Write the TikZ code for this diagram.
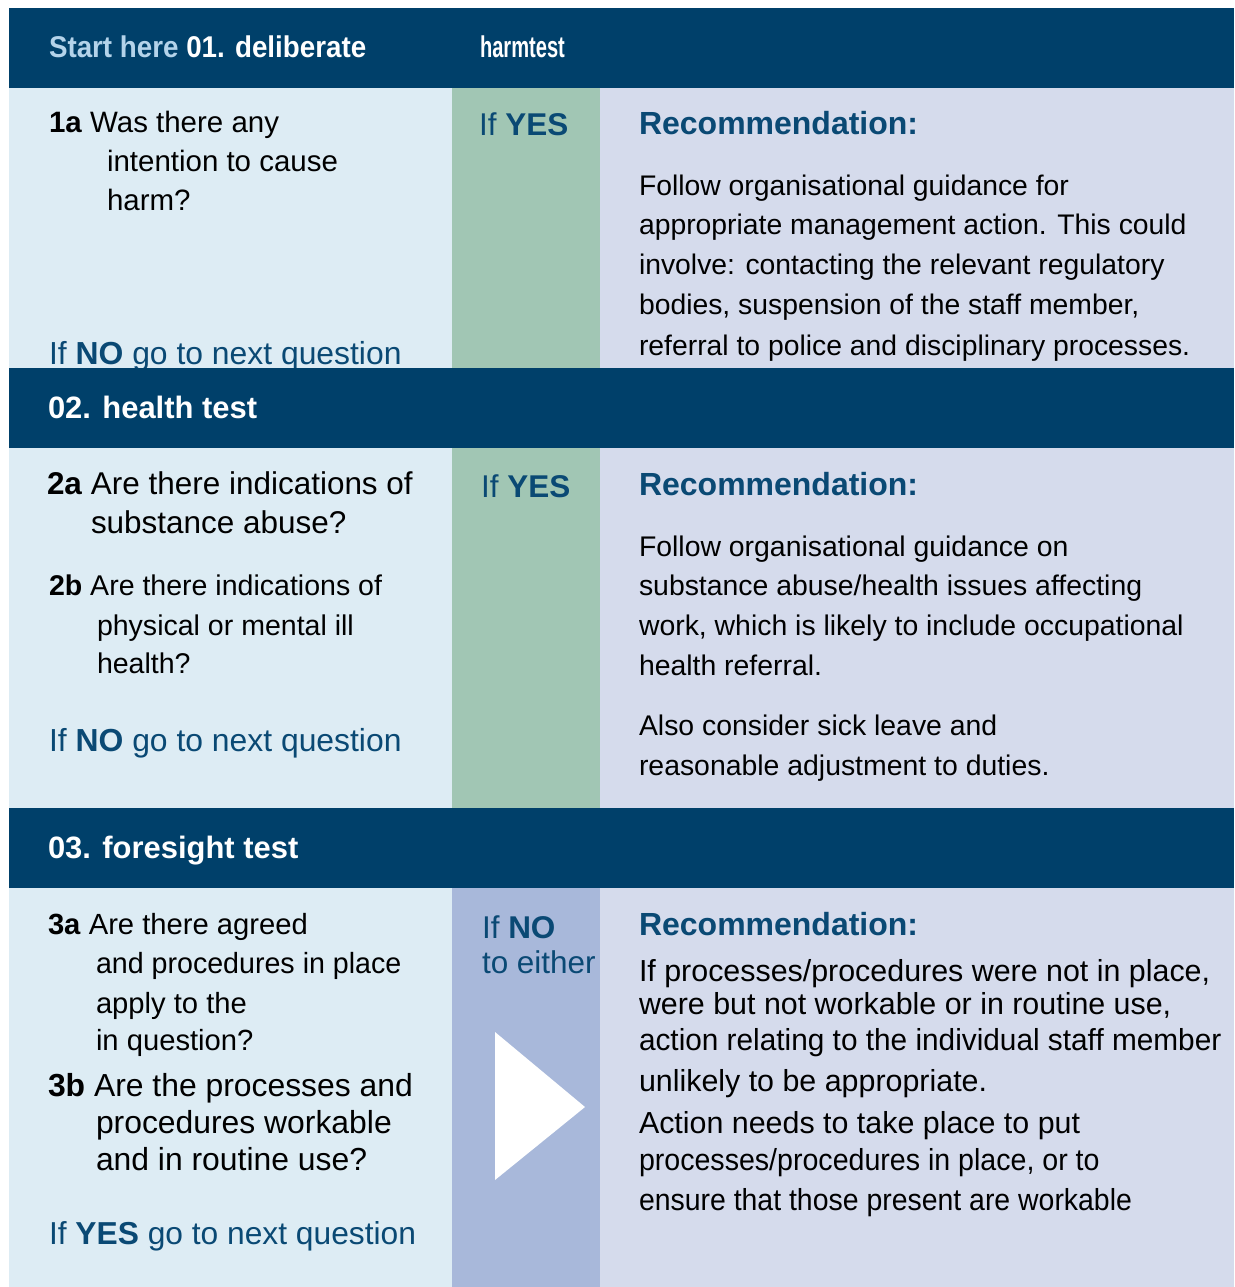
\documentclass[tikz,border=0pt]{standalone}
\usepackage{fontspec}
\setmainfont{Liberation Sans}
\usepackage{graphicx}
\definecolor{navy}{RGB}{0,64,106}
\definecolor{qblue}{RGB}{221,236,244}
\definecolor{ygreen}{RGB}{161,198,180}
\definecolor{reclav}{RGB}{213,219,236}
\definecolor{nblue}{RGB}{168,184,218}
\definecolor{tblue}{RGB}{10,73,116}
\definecolor{startblue}{RGB}{180,211,234}
\newcommand\sz[1]{\fontsize{#1}{#1}\selectfont}
\newcommand\cond[2]{\scalebox{#1}[1]{#2}}
\begin{document}
\begin{tikzpicture}[x=0.75pt,y=-0.75pt,
  txt/.style={anchor=base west,inner sep=0pt,outer sep=0pt,text=black},
  bluetxt/.style={txt,text=tblue},
  headtxt/.style={txt,text=white,font=\sz{23.2pt}\bfseries},
  rectxt/.style={txt,text=tblue,font=\sz{24pt}\bfseries}]
\useasboundingbox (0,0) rectangle (1234,1287);
\fill[white] (0,0) rectangle (1234,1287);
% ---------- row backgrounds ----------
\fill[qblue]  (9,88) rectangle (452,368);
\fill[ygreen] (452,88) rectangle (600,368);
\fill[reclav] (600,88) rectangle (1234,368);
\fill[qblue]  (9,448) rectangle (452,808);
\fill[ygreen] (452,448) rectangle (600,808);
\fill[reclav] (600,448) rectangle (1234,808);
\fill[qblue]  (9,888) rectangle (452,1287);
\fill[nblue]  (452,888) rectangle (600,1287);
\fill[reclav] (600,888) rectangle (1234,1287);
% ---------- row 1 ----------
\node[txt,font=\sz{22.1pt}] (q1a) at (49,133) {\textbf{1a} Was there any};
\node[txt,font=\sz{22.1pt}] (q1a2) at (107,172) {intention to cause};
\node[txt,font=\sz{22.1pt}] (q1a3) at (107,211) {harm?};
\node[bluetxt,font=\sz{23.9pt}] (no1) at (49,364) {If \textbf{NO} go to next question};
\node[bluetxt,font=\sz{23.6pt}] (yes1) at (479,136) {If \textbf{YES}};
\node[rectxt] (rec1) at (639,135) {Recommendation:};
\begin{scope}[every node/.style={txt,font=\sz{21.25pt}}]
\node (r1l1) at (639,196) {Follow organisational guidance for};
\node (r1l2) at (639,235) {appropriate management action. This could};
\node (r1l3) at (639,275) {involve: contacting the relevant regulatory};
\node (r1l4) at (639,315) {bodies, suspension of the staff member,};
\node (r1l5) at (639,355) {referral to police and disciplinary processes.};
\end{scope}
% ---------- row 2 ----------
\node[txt,font=\sz{23.6pt}] (q2a) at (47,494) {\textbf{2a} Are there indications of};
\node[txt,font=\sz{23.6pt}] (q2a2) at (91,533) {substance abuse?};
\node[txt,font=\sz{21.4pt}] (q2b) at (49,595) {\textbf{2b} Are there indications of};
\node[txt,font=\sz{21.4pt}] (q2b2) at (97,635) {physical or mental ill};
\node[txt,font=\sz{21.4pt}] (q2b3) at (97,673) {health?};
\node[bluetxt,font=\sz{23.9pt}] (no2) at (49,751) {If \textbf{NO} go to next question};
\node[bluetxt,font=\sz{23.6pt}] (yes2) at (481,497) {If \textbf{YES}};
\node[rectxt] (rec2) at (639,495) {Recommendation:};
\begin{scope}[every node/.style={txt,font=\sz{21.3pt}}]
\node (r2l1) at (639,556) {Follow organisational guidance on};
\node (r2l2) at (639,595) {substance abuse/health issues affecting};
\node (r2l3) at (639,635) {work, which is likely to include occupational};
\node (r2l4) at (639,675) {health referral.};
\node (r2l5) at (639,735) {Also consider sick leave and};
\node (r2l6) at (639,775) {reasonable adjustment to duties.};
\end{scope}
% ---------- row 3 ----------
\begin{scope}[every node/.style={txt,font=\sz{21.9pt}}]
\node (q3a) at (48,934) {\textbf{3a} Are there agreed};
\node (q3a2) at (96,973) {\cond{0.98}{and procedures in place}};
\node (q3a3) at (96,1013) {apply to the};
\node (q3a4) at (96,1050) {in question?};
\end{scope}
\begin{scope}[every node/.style={txt,font=\sz{23.9pt}}]
\node (q3b) at (48,1096) {\textbf{3b} Are the processes and};
\node (q3b2) at (96,1133) {procedures workable};
\node (q3b3) at (96,1170) {and in routine use?};
\end{scope}
\node[bluetxt,font=\sz{23.8pt}] (yes3) at (49,1244) {If \textbf{YES} go to next question};
\node[bluetxt,font=\sz{23.6pt}] (no3) at (482,938) {If \textbf{NO}};
\node[bluetxt,font=\sz{23.6pt}] (no3b) at (482,973) {to either};
\fill[white] (495,1032) -- (495,1180) -- (585,1107) -- cycle;
\node[rectxt] (rec3) at (639,935) {Recommendation:};
\begin{scope}[every node/.style={txt,font=\sz{22.8pt}}]
\node (r3l1) at (639,981) {If processes/procedures were not in place,};
\node (r3l2) at (639,1014) {were but not workable or in routine use,};
\node (r3l3) at (639,1050) {\cond{0.98}{action relating to the individual staff member}};
\node (r3l4) at (639,1091) {unlikely to be appropriate.};
\node (r3l5) at (639,1133) {Action needs to take place to put};
\node (r3l6) at (639,1170) {\cond{0.94}{processes/procedures in place, or to}};
\node (r3l7) at (639,1210) {\cond{0.935}{ensure that those present are workable}};
\end{scope}
% ---------- header bands ----------
\fill[navy] (9,8) rectangle (1234,88);
\fill[navy] (9,368) rectangle (1234,448);
\fill[navy] (9,808) rectangle (1234,888);
\node[headtxt,font=\sz{22.5pt}\bfseries] (h1) at (49,58) {\cond{0.925}{\textcolor{startblue}{Start here} 01. deliberate}};
\node[headtxt,font=\sz{22.5pt}\bfseries] (h1b) at (480,58) {\cond{0.67}{harmtest}};
\node[headtxt] (h2) at (48,418) {02. health test};
\node[headtxt] (h3) at (48,858) {03. foresight test};
\end{tikzpicture}
\end{document}
